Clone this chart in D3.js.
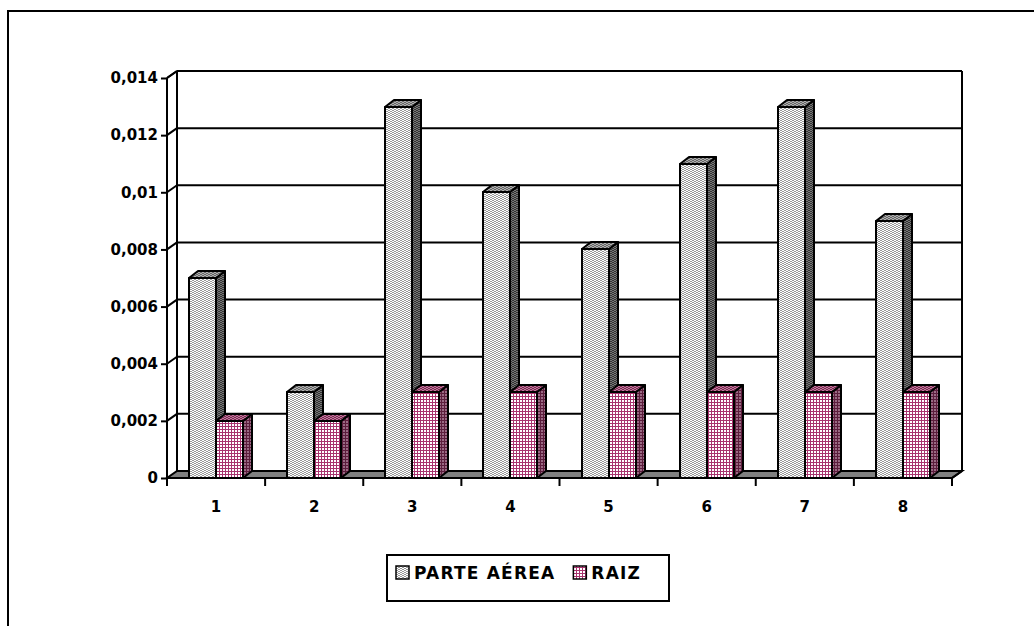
<!DOCTYPE html>
<html>
<head>
<meta charset="utf-8">
<script src="https://cdn.jsdelivr.net/npm/d3@7"></script>
<style>
body { margin: 0; background: #fff; }
text { font-family: "Comic Sans MS", "DejaVu Sans", sans-serif; font-weight: bold; fill: #000; }
</style>
</head>
<body>
<div id="chart"></div>
<script>
// data
var categories = ["1", "2", "3", "4", "5", "6", "7", "8"];
var seriesNames = ["PARTE AÉREA", "RAIZ"];
var parteAerea = [0.007, 0.003, 0.013, 0.010, 0.008, 0.011, 0.013, 0.009];
var raiz = [0.002, 0.002, 0.003, 0.003, 0.003, 0.003, 0.003, 0.003];
var yTicks = [0, 0.002, 0.004, 0.006, 0.008, 0.01, 0.012, 0.014];

var W = 1034, H = 626;
var svg = d3.select("#chart").append("svg")
  .attr("width", W).attr("height", H);

// patterns for the bar faces
var defs = svg.append("defs");
function pat(id, bg, fg, w, h, kind) {
  var p = defs.append("pattern").attr("id", id)
    .attr("patternUnits", "userSpaceOnUse")
    .attr("width", w).attr("height", h);
  p.append("rect").attr("width", w).attr("height", h).attr("fill", bg);
  if (kind == "grid") {
    p.append("rect").attr("width", w).attr("height", 1).attr("fill", fg);
    p.append("rect").attr("width", 1).attr("height", h).attr("fill", fg);
  } else {
    // small dashes, offset every other row
    p.append("rect").attr("x", 0).attr("y", 0).attr("width", 2).attr("height", 1).attr("fill", fg);
    p.append("rect").attr("x", 2).attr("y", 1).attr("width", 2).attr("height", 1).attr("fill", fg);
  }
  p.selectAll("rect").attr("shape-rendering", "crispEdges");
}
pat("pFront", "#ffffff", "#999999", 4, 2, "dots");
pat("pSide", "#777777", "#333333", 4, 2, "dots");
pat("pTop", "#b0b0b0", "#666666", 4, 2, "dots");
pat("rFront", "#ffffff", "#a8336e", 3, 3, "grid");
pat("rSide", "#9a6a84", "#5c1d3c", 3, 3, "grid");
pat("rTop", "#c07a9c", "#7a2a52", 4, 2, "dots");
var fills = [
  {front: "url(#pFront)", side: "url(#pSide)", top: "url(#pTop)"},
  {front: "url(#rFront)", side: "url(#rSide)", top: "url(#rTop)"}
];

// outer frame
svg.append("rect").attr("x", 8).attr("y", 11).attr("width", 1200).attr("height", 800)
  .attr("fill", "none").attr("stroke", "#000").attr("stroke-width", 2);

// scales (front plane)
var x0 = d3.scaleBand().domain(categories).range([167, 952]);
var x1 = d3.scaleBand().domain(seriesNames).range([0, x0.bandwidth()]).paddingOuter(0.82);
var y = d3.scaleLinear().domain([0, 0.014]).range([478, 78]);
var wdx = 10, wdy = -7;   // depth of the walls
var bdx = 9, bdy = -7;    // depth of the bars

var x0L = x0.range()[0], x0R = x0.range()[1];

// floor
svg.append("path")
  .attr("d", "M" + x0L + "," + y(0) + "L" + x0R + "," + y(0) + "L" + (x0R + wdx) + "," + (y(0) + wdy) +
        "L" + (x0L + wdx) + "," + (y(0) + wdy) + "Z")
  .attr("fill", "#808080").attr("stroke", "#000").attr("stroke-width", 2);

// gridlines on back wall and side wall
var grid = svg.append("g").attr("stroke", "#000").attr("stroke-width", 2).attr("fill", "none");
yTicks.forEach(function(v) {
  if (v == 0) return;
  grid.append("line").attr("x1", x0L + wdx).attr("x2", x0R + wdx)
    .attr("y1", y(v) + wdy).attr("y2", y(v) + wdy);
  grid.append("line").attr("x1", x0L).attr("x2", x0L + wdx)
    .attr("y1", y(v)).attr("y2", y(v) + wdy);
});
// wall edges
grid.append("line").attr("x1", x0L + wdx).attr("x2", x0L + wdx).attr("y1", y(0.014) + wdy).attr("y2", y(0) + wdy);
grid.append("line").attr("x1", x0R + wdx).attr("x2", x0R + wdx).attr("y1", y(0.014) + wdy).attr("y2", y(0) + wdy);

// bars
var data = categories.map(function(c, i) { return {cat: c, vals: [parteAerea[i], raiz[i]]}; });
var groups = svg.selectAll(".grp").data(data).enter().append("g").attr("class", "grp");
groups.each(function(d) {
  var g = d3.select(this);
  d.vals.forEach(function(v, k) {
    var bx = Math.round(x0(d.cat) + x1(seriesNames[k])), bw = Math.round(x1.bandwidth());
    var top = Math.round(y(v)), base = y(0);
    var f = fills[k];
    var b = g.append("g").attr("stroke", "#000").attr("stroke-width", 2).attr("stroke-linejoin", "round");
    b.append("path").attr("fill", f.side)
      .attr("d", "M" + (bx + bw) + "," + top + "L" + (bx + bw + bdx) + "," + (top + bdy) +
        "L" + (bx + bw + bdx) + "," + (base + bdy) + "L" + (bx + bw) + "," + base + "Z");
    b.append("path").attr("fill", f.top)
      .attr("d", "M" + bx + "," + top + "L" + (bx + bdx) + "," + (top + bdy) +
        "L" + (bx + bw + bdx) + "," + (top + bdy) + "L" + (bx + bw) + "," + top + "Z");
    b.append("rect").attr("fill", f.front)
      .attr("x", bx).attr("y", top).attr("width", bw).attr("height", base - top);
  });
});

// front edges of axes
var axesG = svg.append("g").attr("stroke", "#000").attr("stroke-width", 2);
axesG.append("line").attr("x1", x0L).attr("x2", x0L).attr("y1", y(0.014)).attr("y2", y(0));
axesG.append("line").attr("x1", x0L).attr("x2", x0R).attr("y1", y(0)).attr("y2", y(0));
axesG.append("line").attr("x1", x0R).attr("x2", x0R + wdx).attr("y1", y(0)).attr("y2", y(0) + wdy);
axesG.append("line").attr("x1", x0L).attr("x2", x0L + wdx).attr("y1", y(0.014)).attr("y2", y(0.014) + wdy);
axesG.append("line").attr("x1", x0L + wdx).attr("x2", x0R + wdx).attr("y1", y(0.014) + wdy).attr("y2", y(0.014) + wdy);

// y axis
var loc = d3.formatLocale({decimal: ",", thousands: ".", grouping: [3], currency: ["", ""]});
var fmt = loc.format("~g");
var yAxis = svg.append("g").attr("transform", "translate(" + x0L + ",0)")
  .call(d3.axisLeft(y).tickValues(yTicks).tickFormat(fmt).tickSize(6).tickPadding(3));
yAxis.select(".domain").remove();
yAxis.selectAll(".tick line").attr("stroke", "#000").attr("stroke-width", 2);
yAxis.selectAll(".tick text").style("font-size", "15px");

// x axis
var bounds = categories.map(function(c) { return x0(c); }).concat([x0R]);
var xAxisG = svg.append("g");
xAxisG.selectAll("line").data(bounds).enter().append("line")
  .attr("x1", function(d) { return d; }).attr("x2", function(d) { return d; })
  .attr("y1", y(0)).attr("y2", y(0) + 8).attr("stroke", "#000").attr("stroke-width", 2);
xAxisG.selectAll("text").data(categories).enter().append("text")
  .attr("x", function(d) { return x0(d) + x0.bandwidth() / 2; })
  .attr("y", 512).attr("text-anchor", "middle").style("font-size", "15px")
  .text(function(d) { return d; });

// legend
var leg = svg.append("g");
leg.append("rect").attr("x", 387).attr("y", 555).attr("width", 282).attr("height", 46)
  .attr("fill", "#fff").attr("stroke", "#000").attr("stroke-width", 2);
var lx = 396;
seriesNames.forEach(function(s, k) {
  leg.append("rect").attr("x", lx).attr("y", 566).attr("width", 13).attr("height", 13)
    .attr("fill", fills[k].front).attr("stroke", "#000").attr("stroke-width", 1.5);
  var t = leg.append("text").attr("x", lx + 18).attr("y", 579)
    .style("font-size", "17px").style("letter-spacing", "1.2px").text(s);
  lx = lx + 18 + t.node().getComputedTextLength() + 18;
});
</script>
</body>
</html>
